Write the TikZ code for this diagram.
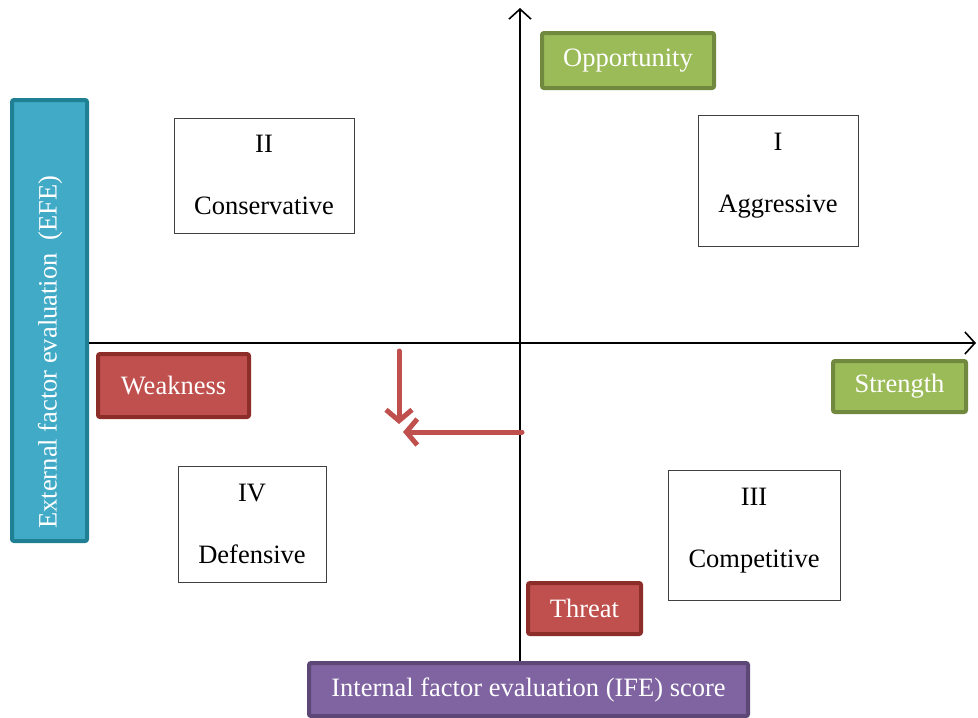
\documentclass[tikz,border=0pt]{standalone}
\usepackage{fontspec}
\setmainfont{Liberation Serif}
\usetikzlibrary{arrows.meta}

\definecolor{greenfill}{HTML}{9BBB59}
\definecolor{greenline}{HTML}{71893F}
\definecolor{redfill}{HTML}{C0504D}
\definecolor{redline}{HTML}{8C2D2A}
\definecolor{bluefill}{HTML}{41AAC6}
\definecolor{blueline}{HTML}{1F7F93}
\definecolor{purplefill}{HTML}{8064A2}
\definecolor{purpleline}{HTML}{5C4776}

\tikzset{
	tag/.style={line width=4pt, rounded corners=2pt, text=white, inner sep=0pt,
		font=\fontsize{26.5}{32}\selectfont},
	quad/.style={draw=black!75, line width=0.8pt, inner sep=0pt},
	quadtext/.style={inner sep=0pt, align=center, font=\fontsize{26.5}{32}\selectfont},
	axis/.style={line width=1.6pt, -{Straight Barb[length=10pt,width=22pt,line width=1.6pt]}},
	stratarrow/.style={draw=redfill, line width=5pt, line cap=round,
		-{Straight Barb[length=11pt,width=26pt,line width=5pt]}}
}

\begin{document}
\begin{tikzpicture}[x=1pt,y=-1pt]

	\useasboundingbox (0,0) rectangle (978,718);

	% ---- side boxes

	\node[tag, fill=bluefill, draw=blueline, minimum width=441pt, minimum height=75pt, rotate=90]
		(efe) at (49.5,320.5) {};
	\node[tag, rotate=90] (efetext) at (50,352) {External factor evaluation\ \ (EFE)};
	\node[tag, fill=purplefill, draw=purpleline, minimum width=439pt, minimum height=53pt]
		(ife) at (528.5,689.5) {Internal factor evaluation (IFE) score};

	% ---- axes

	\coordinate (ytop) at (520,8);
	\coordinate (xend) at (976,343);
	\draw[axis] (ife.north -| ytop) -- (ytop);
	\draw[axis] (efe.south |- xend) -- (xend);

	% ---- labels on the axes

	\node[tag, fill=greenfill, draw=greenline, minimum width=172pt, minimum height=55pt]
		(opp) at (628,60.5) {Opportunity};
	\node[tag, fill=greenfill, draw=greenline, minimum width=133pt, minimum height=51pt]
		(str) at (899.5,386.5) {Strength};
	\node[tag, fill=redfill, draw=redline, minimum width=151pt, minimum height=63pt]
		(weak) at (173.5,385.5) {Weakness};
	\node[tag, fill=redfill, draw=redline, minimum width=113pt, minimum height=51pt]
		(thr) at (584.5,608.5) {Threat};

	% ---- quadrants

	\node[quad, minimum width=180pt, minimum height=115pt] (q2) at (264,175.5) {};
	\node[quad, minimum width=160pt, minimum height=131pt] (q1) at (778,180.5) {};
	\node[quad, minimum width=148pt, minimum height=116pt] (q4) at (252,524) {};
	\node[quad, minimum width=172pt, minimum height=130pt] (q3) at (754,535) {};

	\node[quadtext] (q2text) at (264,175) {II\\[30pt]Conservative};
	\node[quadtext] (q1text) at (778,176) {I\\[30pt]Aggressive};
	\node[quadtext] (q4text) at (252,524) {IV\\[30pt]Defensive};
	\node[quadtext] (q3text) at (754,531) {III\\[30pt]Competitive};

	% ---- strategy move

	\coordinate (m1) at (399,351);
	\coordinate (m2) at (399,424);
	\coordinate (m3) at (522,432);
	\coordinate (m4) at (403,432);
	\draw[stratarrow] (m1) -- (m2);
	\draw[stratarrow] (m3) -- (m4);

\end{tikzpicture}
\end{document}
